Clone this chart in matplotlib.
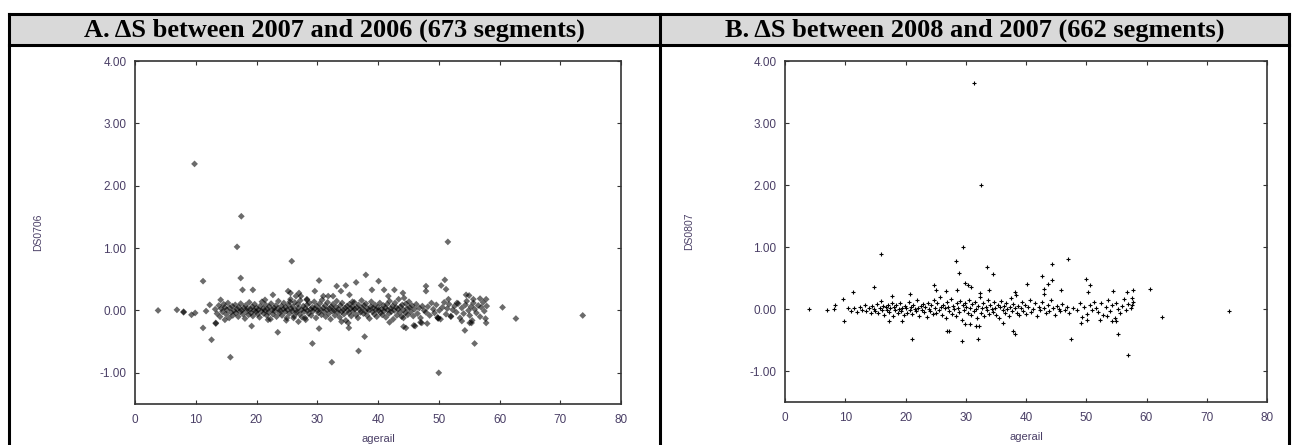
import matplotlib
matplotlib.use("Agg")
import matplotlib.pyplot as plt
from matplotlib.lines import Line2D
from matplotlib.patches import Rectangle

# panel headers / axis text
titles = ["A. \u0394S between 2007 and 2006 (673 segments)",
          "B. \u0394S between 2008 and 2007 (662 segments)"]
ylabels = ["DS0706", "DS0807"]
xlabel = "agerail"
xticks = [0, 10, 20, 30, 40, 50, 60, 70, 80]
yticks = [-1.0, 0.0, 1.0, 2.0, 3.0, 4.0]

# panel A: scattered points (agerail, DS0706)
a_outliers = [
    (3.8, 0.00), (6.9, 0.01), (8.0, -0.03), (8.0, -0.02), (9.3, -0.07), (9.9, -0.04),
    (9.8, 2.35), (11.2, 0.47), (11.2, -0.28), (11.7, -0.01), (12.3, 0.09), (12.6, -0.47),
    (13.3, -0.20), (13.3, -0.21), (14.1, 0.17), (14.8, -0.15), (15.7, -0.75), (16.8, 1.02),
    (17.4, 0.52), (17.5, 1.51), (17.7, 0.33), (19.4, 0.33), (19.2, -0.25), (21.4, 0.17),
    (21.9, -0.15), (22.7, 0.25), (23.5, -0.35), (24.9, -0.16), (25.2, 0.31), (25.5, 0.14),
    (25.6, 0.28), (25.8, 0.79), (26.1, -0.12), (26.5, 0.23), (26.9, -0.18), (27.0, 0.28),
    (27.3, 0.23), (28.0, -0.12), (28.3, 0.17), (28.3, 0.18), (29.2, -0.53), (29.6, 0.31),
    (30.3, 0.48), (30.3, -0.29), (31.0, 0.23), (31.8, 0.23), (32.4, -0.83), (32.6, 0.23),
    (33.2, 0.39), (33.9, 0.31), (34.0, -0.18), (34.7, 0.40), (35.1, -0.20), (35.2, -0.28),
    (35.3, 0.25), (35.8, 0.14), (36.4, 0.45), (36.8, -0.65), (37.8, -0.42), (38.0, 0.57),
    (39.0, 0.33), (40.1, 0.47), (41.0, 0.33), (41.7, 0.23), (41.9, -0.19), (42.7, 0.33),
    (44.1, 0.28), (44.2, -0.12), (44.2, -0.26), (44.6, -0.28), (45.9, -0.24), (46.1, -0.25),
    (47.0, -0.19), (47.2, -0.20), (47.9, 0.39), (47.9, 0.31), (48.1, -0.21), (49.9, -0.12),
    (49.9, -0.13), (50.0, -1.00), (50.4, 0.40), (51.0, 0.49), (51.2, 0.34), (51.5, 1.10),
    (51.6, 0.18), (52.0, -0.10), (53.0, 0.12), (53.8, -0.17), (54.3, -0.32), (54.5, 0.25),
    (55.0, 0.24), (55.1, -0.20), (55.4, -0.20), (55.7, 0.18), (55.9, -0.53), (56.8, 0.19),
    (57.8, 0.18), (57.8, -0.20), (60.5, 0.05), (62.7, -0.13), (73.7, -0.08),
]

# panel A: the dense band around zero
a_band = [
    (13.2, 0.02), (13.5, -0.05), (13.8, 0.08), (14.0, -0.10), (14.2, 0.03), (14.4, -0.02),
    (14.6, 0.10), (14.8, 0.05), (15.0, -0.06), (15.1, 0.01), (15.3, 0.12), (15.5, -0.12),
    (15.6, 0.04), (15.8, -0.03), (16.0, 0.07), (16.1, -0.08), (16.3, 0.00), (16.5, 0.09),
    (16.6, -0.04), (16.8, 0.02), (17.0, -0.10), (17.1, 0.05), (17.3, -0.02), (17.4, 0.11),
    (17.6, 0.00), (17.8, -0.06), (17.9, 0.04), (18.1, -0.13), (18.2, 0.08), (18.4, -0.01),
    (18.5, 0.03), (18.7, -0.07), (18.8, 0.13), (19.0, 0.02), (19.1, -0.04), (19.3, 0.06),
    (19.4, -0.09), (19.6, 0.00), (19.7, 0.10), (19.9, -0.02), (20.0, 0.04), (20.2, -0.06),
    (20.3, 0.01), (20.5, -0.11), (20.6, 0.07), (20.8, -0.01), (20.9, 0.14), (21.1, 0.03),
    (21.2, -0.05), (21.4, 0.00), (21.5, 0.09), (21.7, -0.08), (21.8, 0.02), (22.0, -0.03),
    (22.1, 0.06), (22.3, -0.14), (22.4, 0.11), (22.6, 0.01), (22.7, -0.06), (22.9, 0.04),
    (23.0, -0.01), (23.2, 0.08), (23.3, -0.10), (23.5, 0.03), (23.6, 0.15), (23.8, -0.04),
    (23.9, 0.00), (24.1, 0.07), (24.2, -0.08), (24.4, 0.02), (24.5, 0.12), (24.7, -0.02),
    (24.8, 0.05), (25.0, -0.12), (25.1, 0.01), (25.3, 0.09), (25.4, -0.05), (25.6, 0.18),
    (25.7, 0.03), (25.9, -0.01), (26.0, 0.06), (26.2, -0.09), (26.3, 0.13), (26.5, 0.00),
    (26.6, -0.03), (26.8, 0.10), (26.9, 0.04), (27.1, -0.06), (27.2, 0.16), (27.4, 0.01),
    (27.5, -0.11), (27.7, 0.07), (27.8, -0.02), (28.0, 0.03), (28.1, -0.15), (28.3, 0.09),
    (28.4, 0.00), (28.6, -0.05), (28.7, 0.12), (28.9, 0.02), (29.0, -0.08), (29.2, 0.05),
    (29.3, -0.01), (29.5, 0.14), (29.6, 0.03), (29.8, -0.12), (29.9, 0.07), (30.1, 0.00),
    (30.2, -0.04), (30.4, 0.11), (30.5, 0.02), (30.7, -0.07), (30.8, 0.17), (31.0, 0.04),
    (31.1, -0.02), (31.3, 0.08), (31.4, -0.10), (31.6, 0.01), (31.7, 0.13), (31.9, -0.05),
    (32.0, 0.03), (32.2, -0.14), (32.3, 0.06), (32.5, -0.01), (32.6, 0.10), (32.8, 0.00),
    (32.9, -0.08), (33.1, 0.05), (33.2, 0.15), (33.4, -0.03), (33.5, 0.02), (33.7, -0.11),
    (33.8, 0.08), (34.0, -0.02), (34.1, 0.12), (34.3, 0.01), (34.4, -0.06), (34.6, 0.04),
    (34.7, -0.16), (34.9, 0.07), (35.0, 0.00), (35.2, -0.04), (35.3, 0.10), (35.5, 0.03),
    (35.6, -0.09), (35.8, 0.06), (35.9, -0.01), (36.1, 0.13), (36.2, 0.02), (36.4, -0.07),
    (36.5, 0.05), (36.7, -0.12), (36.8, 0.09), (37.0, 0.01), (37.1, -0.03), (37.3, 0.16),
    (37.4, 0.04), (37.6, -0.05), (37.7, 0.08), (37.9, -0.01), (38.0, 0.11), (38.2, -0.08),
    (38.3, 0.03), (38.5, 0.00), (38.6, -0.13), (38.8, 0.06), (38.9, 0.14), (39.1, -0.02),
    (39.2, 0.04), (39.4, -0.06), (39.5, 0.09), (39.7, 0.01), (39.8, -0.10), (40.0, 0.05),
    (40.1, 0.00), (40.3, 0.12), (40.4, -0.04), (40.6, 0.02), (40.7, -0.07), (40.9, 0.08),
    (41.0, -0.01), (41.2, 0.04), (41.3, -0.11), (41.5, 0.10), (41.6, 0.01), (41.8, -0.05),
    (41.9, 0.15), (42.1, 0.03), (42.2, -0.02), (42.4, 0.07), (42.5, -0.14), (42.7, 0.00),
    (42.8, 0.12), (43.0, 0.05), (43.1, -0.08), (43.3, 0.02), (43.4, 0.18), (43.6, -0.03),
    (43.7, 0.06), (43.9, -0.10), (44.0, 0.09), (44.2, 0.01), (44.3, 0.20), (44.5, -0.04),
    (44.6, 0.11), (44.8, 0.03), (44.9, -0.07), (45.1, 0.14), (45.2, 0.05), (45.4, -0.02),
    (45.6, 0.08), (45.8, -0.09), (46.0, 0.02), (46.3, 0.10), (46.5, -0.05), (46.8, 0.04),
    (47.0, -0.12), (47.3, 0.07), (47.6, 0.00), (47.9, -0.03), (48.2, 0.06), (48.5, -0.08),
    (48.8, 0.12), (49.1, 0.02), (49.3, -0.04), (49.6, 0.09), (49.8, -0.11), (50.1, 0.00),
    (50.3, -0.14), (50.6, 0.05), (50.9, 0.13), (51.2, -0.06), (51.4, 0.03), (51.7, 0.10),
    (52.0, -0.09), (52.3, 0.01), (52.6, 0.07), (52.9, -0.03), (53.2, 0.11), (53.5, -0.12),
    (53.8, 0.04), (54.1, -0.05), (54.4, 0.09), (54.6, 0.15), (54.9, 0.00), (55.1, -0.08),
    (55.3, 0.06), (55.5, -0.16), (55.7, 0.12), (55.9, 0.02), (56.2, -0.04), (56.5, 0.08),
    (56.8, -0.10), (57.0, 0.05), (57.3, 0.13), (57.5, -0.01), (57.7, -0.13), (57.9, 0.07),
]

# panel B: scattered points (agerail, DS0807)
b_outliers = [
    (4.0, 0.00), (7.0, -0.01), (8.2, 0.00), (8.3, 0.07), (9.6, 0.16), (9.8, -0.19),
    (11.3, 0.27), (14.8, 0.35), (15.9, 0.89), (17.2, -0.20), (17.7, 0.21), (19.5, -0.20),
    (20.7, 0.24), (21.0, -0.49), (24.8, 0.38), (25.0, 0.31), (26.7, 0.29), (26.9, -0.35),
    (27.3, -0.35), (28.4, 0.78), (28.5, 0.30), (28.9, 0.58), (29.3, -0.52), (29.6, 1.00),
    (29.9, 0.42), (29.9, -0.24), (30.3, 0.39), (30.7, -0.24), (30.9, 0.35), (31.4, 3.65),
    (31.7, -0.27), (32.1, -0.49), (32.2, -0.28), (32.3, 0.26), (32.5, 2.00), (33.6, 0.68),
    (33.9, 0.30), (34.5, 0.56), (36.2, -0.23), (37.9, -0.36), (38.2, -0.40), (38.2, 0.27),
    (40.2, 0.40), (42.6, 0.54), (43.0, 0.32), (43.0, 0.24), (43.7, 0.40), (44.3, 0.72),
    (44.3, 0.47), (45.8, 0.30), (46.9, 0.80), (47.5, -0.49), (49.2, -0.22), (50.0, 0.49),
    (50.2, -0.17), (50.3, 0.28), (50.6, 0.38), (52.2, -0.18), (53.4, -0.11), (54.2, -0.20),
    (54.5, 0.29), (55.0, -0.20), (55.2, -0.41), (56.7, 0.27), (57.0, -0.74), (57.7, 0.30),
    (57.6, 0.18), (57.6, 0.07), (60.5, 0.33), (62.6, -0.13), (73.7, -0.04),
]

# panel B: the dense band around zero
b_band = [
    (10.5, 0.02), (11.0, -0.03), (11.5, 0.01), (12.0, -0.05), (12.4, 0.04), (12.8, -0.01),
    (13.2, 0.06), (13.5, -0.04), (13.9, 0.02), (14.2, -0.07), (14.5, 0.05), (14.8, 0.00),
    (15.0, -0.03), (15.2, 0.08), (15.5, -0.06), (15.7, 0.02), (15.9, 0.13), (16.1, -0.01),
    (16.3, 0.05), (16.5, -0.09), (16.7, 0.03), (16.9, -0.02), (17.1, 0.07), (17.3, -0.05),
    (17.5, 0.01), (17.7, 0.10), (17.9, -0.12), (18.1, 0.04), (18.3, -0.02), (18.5, 0.06),
    (18.7, -0.07), (18.9, 0.00), (19.1, 0.09), (19.3, -0.04), (19.5, 0.02), (19.7, -0.10),
    (19.9, 0.05), (20.1, 0.01), (20.3, -0.06), (20.5, 0.12), (20.7, -0.02), (20.9, 0.03),
    (21.1, -0.08), (21.3, 0.07), (21.5, 0.00), (21.7, -0.04), (21.9, 0.15), (22.1, 0.02),
    (22.3, -0.11), (22.5, 0.05), (22.7, -0.01), (22.9, 0.08), (23.1, -0.05), (23.3, 0.03),
    (23.5, -0.13), (23.7, 0.10), (23.9, 0.00), (24.1, -0.03), (24.3, 0.06), (24.5, -0.08),
    (24.7, 0.14), (24.9, 0.02), (25.1, -0.06), (25.3, 0.09), (25.5, -0.02), (25.7, 0.20),
    (25.9, 0.04), (26.1, -0.10), (26.3, 0.07), (26.5, 0.01), (26.7, -0.15), (26.9, 0.11),
    (27.1, 0.03), (27.3, -0.04), (27.5, 0.16), (27.7, -0.08), (27.9, 0.05), (28.1, 0.00),
    (28.3, -0.12), (28.5, 0.09), (28.7, 0.02), (28.9, -0.05), (29.1, 0.13), (29.3, -0.18),
    (29.5, 0.06), (29.7, -0.01), (29.9, 0.10), (30.1, 0.03), (30.3, -0.07), (30.5, 0.15),
    (30.7, 0.01), (30.9, -0.10), (31.1, 0.08), (31.3, -0.03), (31.5, 0.12), (31.7, 0.00),
    (31.9, -0.14), (32.1, 0.05), (32.3, 0.19), (32.5, -0.06), (32.7, 0.02), (32.9, 0.09),
    (33.1, -0.11), (33.3, 0.04), (33.5, -0.02), (33.7, 0.14), (33.9, -0.08), (34.1, 0.06),
    (34.3, 0.00), (34.5, -0.05), (34.7, 0.11), (34.9, 0.02), (35.1, -0.09), (35.3, 0.07),
    (35.5, -0.15), (35.7, 0.03), (35.9, 0.13), (36.1, -0.02), (36.3, 0.05), (36.5, -0.07),
    (36.7, 0.10), (36.9, 0.00), (37.1, -0.12), (37.3, 0.04), (37.5, 0.17), (37.7, -0.04),
    (37.9, 0.08), (38.1, 0.01), (38.3, 0.22), (38.5, -0.06), (38.7, 0.05), (38.9, -0.10),
    (39.1, 0.02), (39.3, 0.12), (39.5, -0.03), (39.8, 0.07), (40.0, -0.08), (40.3, 0.03),
    (40.6, 0.14), (40.9, -0.05), (41.2, 0.00), (41.5, 0.09), (41.8, -0.12), (42.1, 0.04),
    (42.4, -0.02), (42.7, 0.11), (43.0, 0.01), (43.3, -0.07), (43.6, 0.06), (43.9, -0.03),
    (44.2, 0.15), (44.5, 0.02), (44.8, -0.09), (45.1, 0.05), (45.4, 0.00), (45.7, -0.04),
    (46.0, 0.08), (46.4, -0.01), (46.8, 0.03), (47.2, -0.06), (47.8, 0.02), (48.4, -0.02),
    (49.0, 0.10), (49.3, -0.13), (49.7, 0.04), (50.2, -0.08), (50.6, 0.07), (51.0, -0.02),
    (51.3, 0.12), (51.6, 0.01), (52.0, -0.05), (52.4, 0.09), (52.8, -0.10), (53.2, 0.03),
    (53.6, 0.14), (54.0, -0.03), (54.3, 0.06), (54.7, -0.15), (55.0, 0.10), (55.3, 0.00),
    (55.6, -0.07), (55.9, 0.05), (56.3, 0.16), (56.6, -0.02), (57.0, 0.08), (57.4, 0.01),
    (57.7, 0.11),
]

W, H = 1296, 445
fig = plt.figure(figsize=(W / 100, H / 100), dpi=100)


def fx(px):
    return px / W


def fy(py):
    return 1 - py / H


# table frame: grey header row and thick black rules
head_top, head_bot = 14, 45
left_x, mid_x, right_x = 9, 660, 1289
fig.patches.append(Rectangle((fx(left_x), fy(head_bot)), fx(right_x - left_x),
                             (head_bot - head_top) / H, transform=fig.transFigure,
                             facecolor="#d9d9d9", edgecolor="none", zorder=0))
for y in (head_top, head_bot):
    fig.lines.append(Line2D([fx(left_x), fx(right_x)], [fy(y), fy(y)],
                            transform=fig.transFigure, color="black", lw=2.2))
for x in (left_x, mid_x, right_x):
    fig.lines.append(Line2D([fx(x), fx(x)], [fy(head_top), 0],
                            transform=fig.transFigure, color="black", lw=2.2))

fig.text(fx((left_x + mid_x) / 2), fy(30), titles[0], ha="center", va="center",
         family="Liberation Serif", weight="bold", fontsize=19)
fig.text(fx((mid_x + right_x) / 2), fy(30), titles[1], ha="center", va="center",
         family="Liberation Serif", weight="bold", fontsize=19)

tick_color = "#4a3f66"
boxes = [(135, 621, 61, 404), (785, 1267, 61, 402)]
axes = []
for (l, r, t, b) in boxes:
    axes.append(fig.add_axes([fx(l), fy(b), (r - l) / W, (b - t) / H]))


def style(ax, ylab):
    ax.set_xlim(0, 80)
    ax.set_ylim(-1.5, 4.0)
    ax.set_xticks(xticks)
    ax.set_xticklabels([str(v) for v in xticks])
    ax.set_yticks(yticks)
    ax.set_yticklabels([f"{v:.2f}" for v in yticks])
    ax.tick_params(direction="in", length=3, width=0.8, color="#333333",
                   top=True, right=True, labelsize=8.5, labelcolor=tick_color)
    ax.tick_params(axis="x", pad=7)
    ax.tick_params(axis="y", pad=6)
    for s in ax.spines.values():
        s.set_color("#333333")
        s.set_linewidth(1.2)
    for lab in ax.get_xticklabels() + ax.get_yticklabels():
        lab.set_family("Liberation Sans")
    ax.set_ylabel(ylab, fontsize=7.5, color=tick_color, family="Liberation Sans")
    ax.yaxis.set_label_coords(-0.189, 0.5)
    ax.set_xlabel(xlabel, fontsize=8, color=tick_color, family="Liberation Sans", va="top")
    ax.xaxis.set_label_coords(0.5, -0.088)


ax = axes[0]
pts = a_band + a_outliers
ax.scatter([p[0] for p in pts], [p[1] for p in pts], marker="D", s=12,
           facecolor="black", edgecolor="none", alpha=0.58, zorder=3)
style(ax, ylabels[0])

ax = axes[1]
pts = b_band + b_outliers
ax.scatter([p[0] for p in pts], [p[1] for p in pts], marker="+", s=10,
           color="black", linewidths=0.8, zorder=3)
style(ax, ylabels[1])

fig.savefig("out.png", dpi=100)
